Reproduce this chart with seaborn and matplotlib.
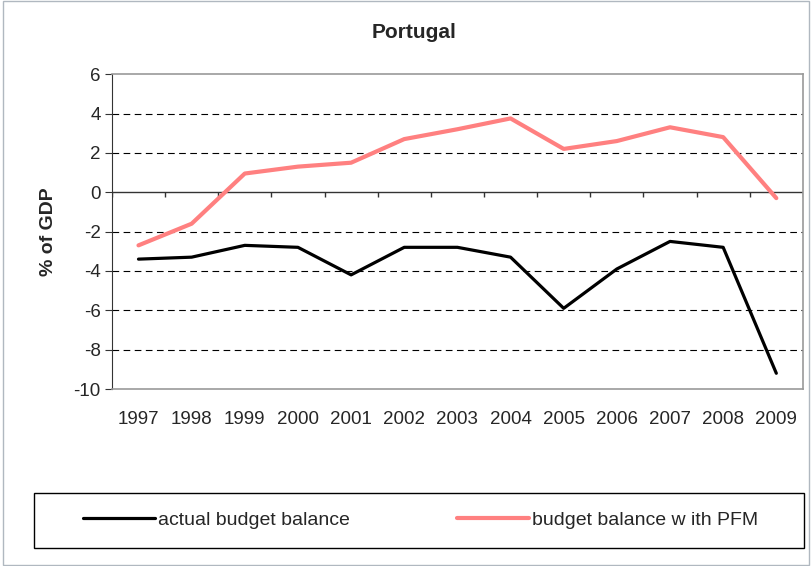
import numpy as np
import pandas as pd
import seaborn as sns
import matplotlib.pyplot as plt
from matplotlib.patches import Rectangle

years = ['1997', '1998', '1999', '2000', '2001', '2002', '2003',
         '2004', '2005', '2006', '2007', '2008', '2009']
actual = [-3.4, -3.3, -2.7, -2.8, -4.2, -2.8, -2.8, -3.3, -5.9, -3.9, -2.5, -2.8, -9.2]
pfm = [-2.7, -1.6, 0.95, 1.3, 1.5, 2.7, 3.2, 3.75, 2.2, 2.6, 3.3, 2.8, -0.3]

df = pd.DataFrame({'pos': np.arange(len(years)), 'actual': actual, 'pfm': pfm})

sns.set_style('white')
plt.rcParams['font.family'] = ['Liberation Sans', 'DejaVu Sans']
plt.rcParams['axes.unicode_minus'] = False

fig = plt.figure(figsize=(8.11, 5.66), dpi=100)
ax = fig.add_axes([0.138, 0.3127, 0.852, 0.5563])

# gridlines
for v in [2, 4, -2, -4, -6, -8]:
    ax.axhline(v, color='black', lw=0.8, ls=(0, (6, 4)), zorder=0)

sns.lineplot(data=df, x='pos', y='actual', color='black', lw=2.3, ax=ax,
             label='actual budget balance', zorder=3)
sns.lineplot(data=df, x='pos', y='pfm', color='#FF8080', lw=3, ax=ax,
             label='budget balance w ith PFM', zorder=3)

# category axis at zero, tick marks between categories
ax.axhline(0, color='#333333', lw=1, zorder=2)
bounds = np.arange(len(years) + 1) - 0.5
ax.vlines(bounds, -0.25, 0, color='#333333', lw=1, zorder=2)

ax.set_xlim(-0.5, len(years) - 0.5)
ax.set_ylim(-10, 6)
ax.set_yticks(range(-10, 7, 2))
ax.set_xticks(df['pos'])
ax.set_xticklabels(years)
ax.tick_params(axis='x', length=0, labelsize=13.5, pad=16)
ax.tick_params(axis='y', length=5, direction='out', left=True, labelsize=13.5,
               color='#333333', pad=3)
ax.set_xlabel('')
ax.set_ylabel('% of GDP', fontsize=14, fontweight='bold', labelpad=12)
fig.text(414 / 811, 1 - 33 / 566, 'Portugal', fontsize=15, fontweight='bold',
         ha='center', va='center')

for s in ['top', 'right', 'bottom']:
    ax.spines[s].set_color('#999999')
    ax.spines[s].set_linewidth(1.2)
ax.spines['left'].set_color('#333333')

handles, labels = ax.get_legend_handles_labels()
ax.get_legend().remove()

# legend box
fig.patches.append(Rectangle((34 / 811, 1 - 548 / 566), 770 / 811, 55 / 566,
                             transform=fig.transFigure, fill=False,
                             edgecolor='black', lw=1))
leg = fig.legend(handles, labels, ncol=2, loc='center left',
                 bbox_to_anchor=(83 / 811, 1 - 520 / 566), frameon=False,
                 fontsize=14, handlelength=3.7, handletextpad=0.15, borderpad=0,
                 borderaxespad=0, columnspacing=5.5)

fig.patches.append(Rectangle((0.004, 0.002), 0.994, 0.996, transform=fig.transFigure,
                             fill=False, edgecolor='#B0B8C0', lw=1))

fig.savefig('out.png', dpi=100)
